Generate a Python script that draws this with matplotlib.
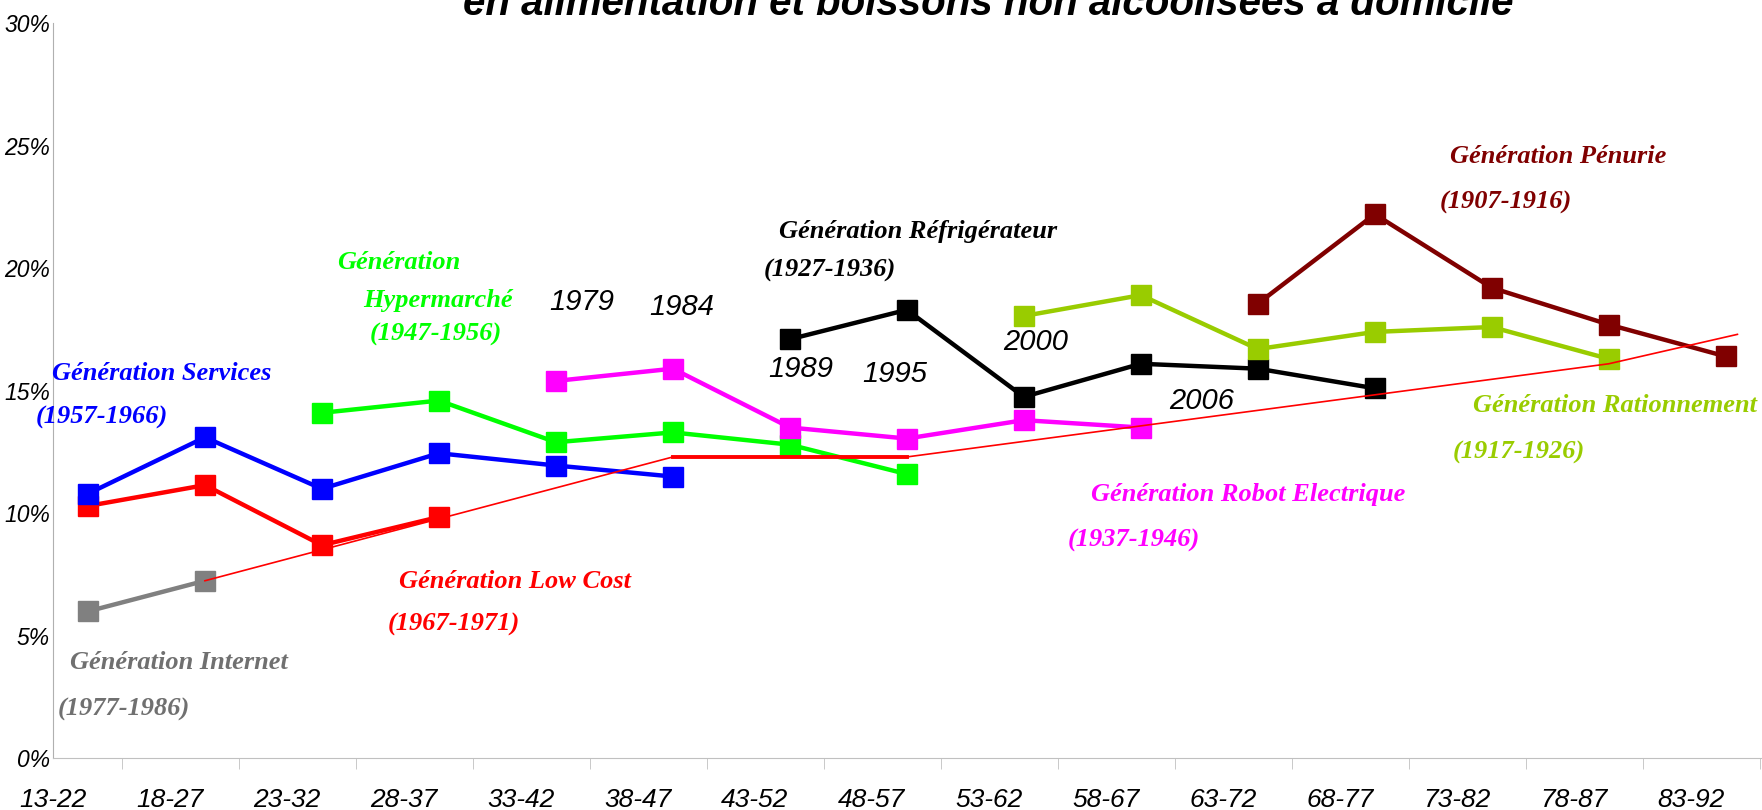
import matplotlib
matplotlib.use("Agg")
import matplotlib.pyplot as plt
from matplotlib import font_manager
from matplotlib.ticker import FixedLocator, NullFormatter

def pick(names):
    for n in names:
        try:
            font_manager.findfont(n, fallback_to_default=False)
            return n
        except Exception:
            pass
    return "DejaVu Sans"

sans = pick(["Liberation Sans Narrow", "Liberation Sans", "Arial"])
sans_wide = pick(["Liberation Sans", "Arial"])
serif = pick(["Liberation Serif", "Times New Roman", "DejaVu Serif"])

# age groups (x axis)
ages = ["13-22", "18-27", "23-32", "28-37", "33-42", "38-47", "43-52", "48-57",
        "53-62", "58-67", "63-72", "68-77", "73-82", "78-87", "83-92"]

# share of budget (%) per generation, indexed by position in ages
services_x = [0, 1, 2, 3, 4, 5]
services = [10.8, 13.1, 11.0, 12.45, 11.95, 11.5]
lowcost_x = [0, 1, 2, 3]
lowcost = [10.3, 11.15, 8.7, 9.85]
internet_x = [0, 1]
internet = [6.0, 7.25]
hyper_x = [2, 3, 4, 5, 6, 7]
hyper = [14.1, 14.6, 12.9, 13.3, 12.8, 11.6]
robot_x = [4, 5, 6, 7, 8, 9]
robot = [15.4, 15.9, 13.5, 13.05, 13.8, 13.5]
frigo_x = [6, 7, 8, 9, 10, 11]
frigo = [17.1, 18.3, 14.75, 16.1, 15.9, 15.1]
ration_x = [8, 9, 10, 11, 12, 13]
ration = [18.05, 18.9, 16.7, 17.4, 17.6, 16.3]
penurie_x = [10, 11, 12, 13, 14]
penurie = [18.55, 22.2, 19.2, 17.7, 16.4]

# thin red trend line
trend_x = [1, 5, 7, 13, 14.1]
trend = [7.25, 12.3, 12.3, 16.1, 17.3]

# year markers
years = ["1979", "1984", "1989", "1995", "2000", "2006"]
years_x = [4.22, 5.08, 6.09, 6.9, 8.1, 9.52]
years_y = [18.6, 18.4, 15.9, 15.7, 17.0, 14.6]

# generation labels: (text, x, y, colour)
labels = [
    ("Génération Services", 0.63, 15.7, "#0000ff"),
    ("(1957-1966)", 0.12, 13.9, "#0000ff"),
    ("Génération", 2.66, 20.25, "#00ff00"),
    ("Hypermarché", 2.99, 18.7, "#00ff00"),
    ("(1947-1956)", 2.97, 17.3, "#00ff00"),
    ("Génération Low Cost", 3.65, 7.2, "#ff0000"),
    ("(1967-1971)", 3.13, 5.45, "#ff0000"),
    ("Génération Internet", 0.78, 3.9, "#707070"),
    ("(1977-1986)", 0.31, 2.0, "#707070"),
    ("Génération Réfrigérateur", 7.1, 21.5, "#000000"),
    ("(1927-1936)", 6.34, 19.9, "#000000"),
    ("Génération Robot Electrique", 9.92, 10.75, "#ff00ff"),
    ("(1937-1946)", 8.94, 8.9, "#ff00ff"),
    ("Génération Pénurie", 12.57, 24.55, "#800000"),
    ("(1907-1916)", 12.12, 22.7, "#800000"),
    ("Génération Rationnement", 13.05, 14.4, "#99cc00"),
    ("(1917-1926)", 12.23, 12.5, "#99cc00"),
]

fig = plt.figure(figsize=(17.62, 8.10), dpi=100)
ax = fig.add_axes([0.030, 0.0636, 0.970, 0.908])

series = [
    (lowcost_x, lowcost, "#ff0000"),
    (services_x, services, "#0000ff"),
    (internet_x, internet, "#808080"),
    (hyper_x, hyper, "#00ff00"),
    (robot_x, robot, "#ff00ff"),
    (frigo_x, frigo, "#000000"),
    (ration_x, ration, "#99cc00"),
    (penurie_x, penurie, "#800000"),
]

ax.plot(trend_x, trend, color="#ff0000", lw=1.2, zorder=4)
ax.plot(trend_x[1:3], trend[1:3], color="#ff0000", lw=2.8, zorder=4)
for xs, ys, c in series:
    ax.plot(xs, ys, color=c, lw=3.2, marker="s", ms=14, mec=c, zorder=3)

for t, x, y in zip(years, years_x, years_y):
    ax.text(x, y, t, ha="center", va="center", fontsize=21, style="italic",
            family=sans_wide)
for t, x, y, c in labels:
    ax.text(x, y, t, ha="center", va="center", fontsize=19, style="italic",
            weight="bold", color=c, family=serif)

ax.set_xlim(-0.296, 14.31)
ax.set_ylim(0, 30)
ax.set_yticks([0, 5, 10, 15, 20, 25, 30])
ax.set_yticklabels(["0%", "5%", "10%", "15%", "20%", "25%", "30%"])
ax.set_xticks([i - 0.3 for i in range(len(ages))])
ax.set_xticklabels(ages)
ax.xaxis.set_minor_locator(FixedLocator([i + 0.29 for i in range(len(ages))]))
ax.xaxis.set_minor_formatter(NullFormatter())
ax.tick_params(axis="x", which="major", length=0, pad=21, labelsize=19)
ax.tick_params(axis="x", which="minor", length=8, color="#c0c0c0")
ax.tick_params(axis="y", length=0, pad=2, labelsize=16.5)
for lab in ax.get_xticklabels() + ax.get_yticklabels():
    lab.set_fontstyle("italic")
    lab.set_family(sans)

for s in ["top", "right"]:
    ax.spines[s].set_visible(False)
ax.spines["left"].set_color("#b0b0b0")
ax.spines["bottom"].set_color("#c0c0c0")

# title sits partly above the figure edge, as in the source
fig.text(0.561, 0.981, "en alimentation et boissons non alcoolisées à domicile",
         ha="center", va="baseline", fontsize=29, weight="bold", style="italic",
         family=sans_wide)

fig.savefig("out.png", dpi=100)
